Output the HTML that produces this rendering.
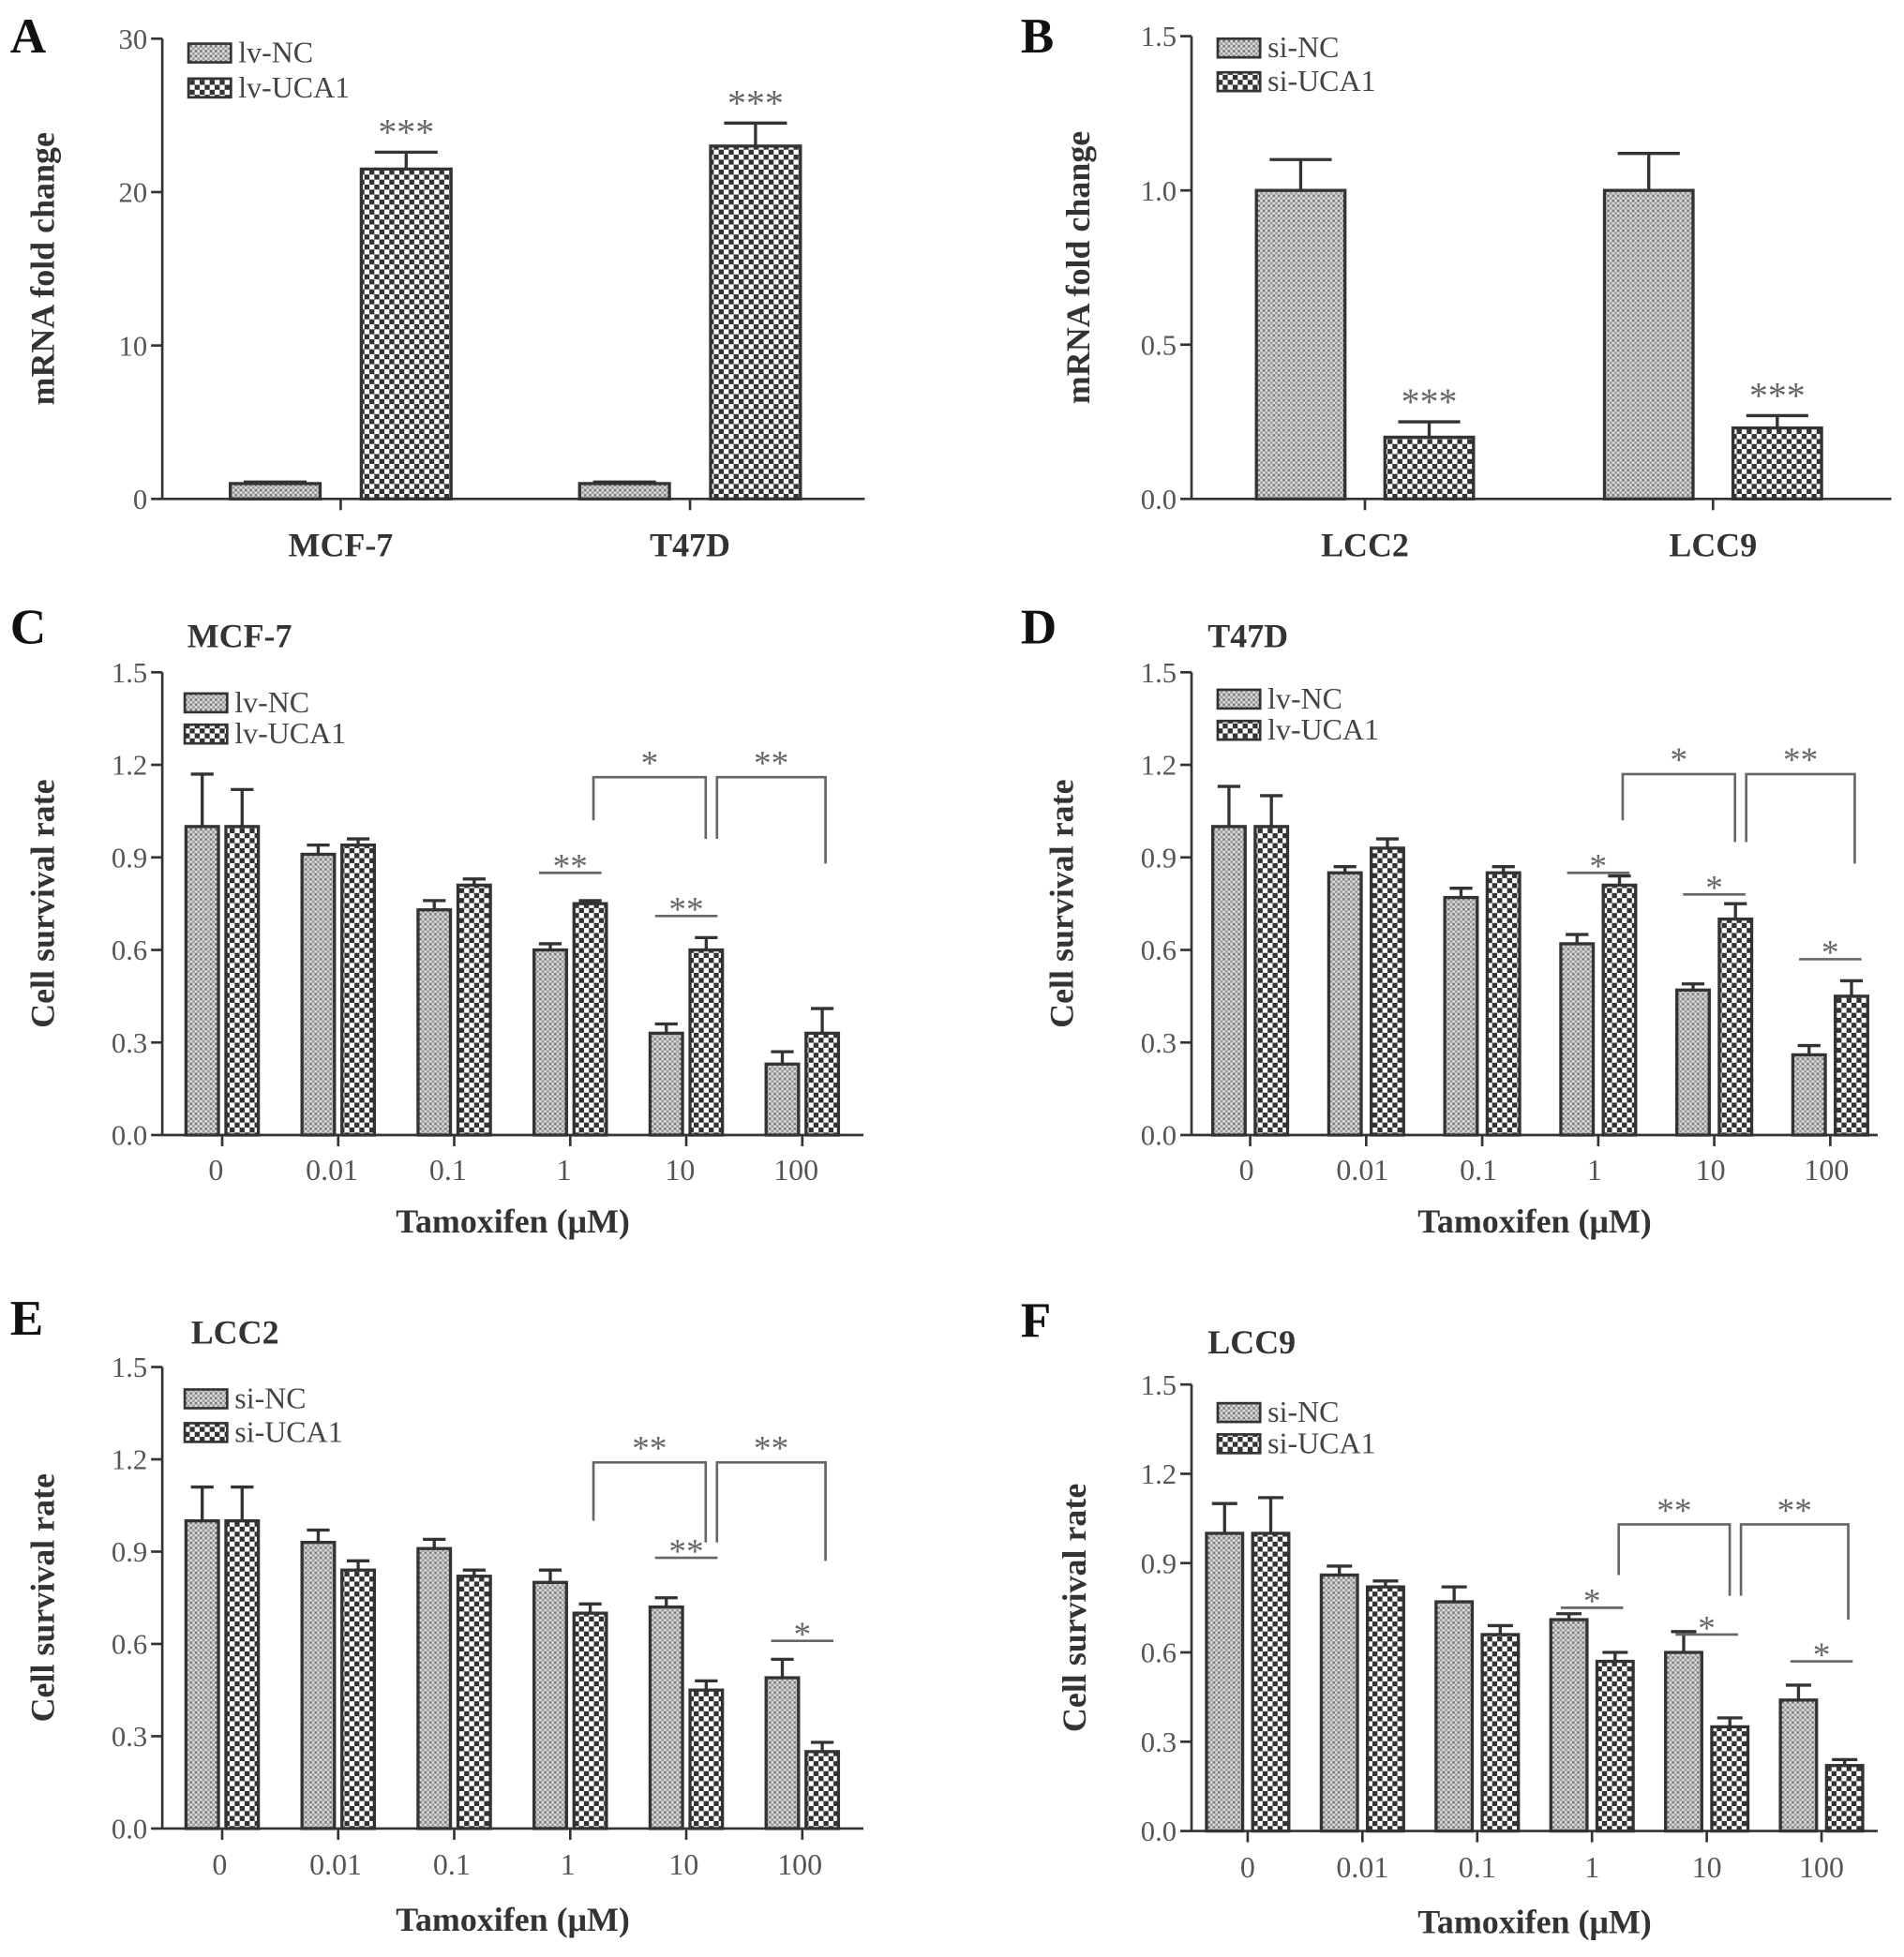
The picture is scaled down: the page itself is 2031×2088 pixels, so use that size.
<!DOCTYPE html>
<html><head><meta charset="utf-8">
<style>
html,body{margin:0;padding:0;background:#fff;}
svg{display:block;font-family:"Liberation Serif",serif;}
</style></head>
<body>
<svg id="fig" width="2031" height="2088" viewBox="0 0 1526 1569" xmlns="http://www.w3.org/2000/svg">
<defs>
<pattern id="pNC" patternUnits="userSpaceOnUse" width="4" height="4">
<rect width="4" height="4" fill="#dcdcdc"/>
<rect width="2" height="2" fill="#7a7a7a"/>
<rect x="2" y="2" width="2" height="2" fill="#9a9a9a"/>
</pattern>
<pattern id="pUC" patternUnits="userSpaceOnUse" width="8" height="8">
<rect width="8" height="8" fill="#fff"/>
<rect width="4" height="4" fill="#333"/>
<rect x="4" y="4" width="4" height="4" fill="#333"/>
</pattern>
</defs>
</svg>
<script>
// ---------- Data ----------
const catsA = ["MCF-7","T47D"];
const ncA = [1.0, 1.0];
const ncErrA = [0.1, 0.1];
const ucA = [21.5, 23.0];
const ucErrA = [1.1, 1.5];
const ticksA = ["0","10","20","30"];

const catsB = ["LCC2","LCC9"];
const ncB = [1.0, 1.0];
const ncErrB = [0.1, 0.12];
const ucB = [0.2, 0.23];
const ucErrB = [0.05, 0.04];
const ticksB = ["0.0","0.5","1.0","1.5"];

const doseCats = ["0","0.01","0.1","1","10","100"];
const survTicks = ["0.0","0.3","0.6","0.9","1.2","1.5"];

const ncC = [1.0,0.91,0.73,0.60,0.33,0.23];
const ncErrC = [0.17,0.03,0.03,0.02,0.03,0.04];
const ucC = [1.0,0.94,0.81,0.75,0.60,0.33];
const ucErrC = [0.12,0.02,0.02,0.01,0.04,0.08];

const ncD = [1.0,0.85,0.77,0.62,0.47,0.26];
const ncErrD = [0.13,0.02,0.03,0.03,0.02,0.03];
const ucD = [1.0,0.93,0.85,0.81,0.70,0.45];
const ucErrD = [0.10,0.03,0.02,0.03,0.05,0.05];

const ncE = [1.0,0.93,0.91,0.80,0.72,0.49];
const ncErrE = [0.11,0.04,0.03,0.04,0.03,0.06];
const ucE = [1.0,0.84,0.82,0.70,0.45,0.25];
const ucErrE = [0.11,0.03,0.02,0.03,0.03,0.03];

const ncF = [1.0,0.86,0.77,0.71,0.60,0.44];
const ncErrF = [0.10,0.03,0.05,0.02,0.07,0.05];
const ucF = [1.0,0.82,0.66,0.57,0.35,0.22];
const ucErrF = [0.12,0.02,0.03,0.03,0.03,0.02];

// pair annotations: [categoryIndex, yValue, label]
const pairsC = [[3,0.85,"**"],[4,0.71,"**"]];
const pairsD = [[3,0.85,"*"],[4,0.78,"*"],[5,0.57,"*"]];
const pairsE = [[4,0.88,"**"],[5,0.61,"*"]];
const pairsF = [[3,0.75,"*"],[4,0.66,"*"],[5,0.57,"*"]];
// brackets: [fromCat, toCat, topValue, leftEndValue, rightEndValue, label]
const bracketsC = [[3,4,1.16,1.02,0.96,"*"],[4,5,1.16,0.96,0.88,"**"]];
const bracketsD = [[3,4,1.17,1.02,0.95,"*"],[4,5,1.17,0.95,0.88,"**"]];
const bracketsE = [[3,4,1.19,1.0,0.93,"**"],[4,5,1.19,0.93,0.87,"**"]];
const bracketsF = [[3,4,1.03,0.86,0.79,"**"],[4,5,1.03,0.79,0.71,"**"]];

const SVGNS = "http://www.w3.org/2000/svg";
const svg = document.getElementById("fig");
function mk(tag, attrs, parent, txt){
  const e = document.createElementNS(SVGNS, tag);
  for (const k in attrs) e.setAttribute(k, attrs[k]);
  if (txt !== undefined) e.textContent = txt;
  (parent||svg).appendChild(e);
  return e;
}

function chart(c){
  const g = mk("g", {});
  
  
  const ys = v => c.yBot - (v / c.vmax) * (c.yBot - c.yTop);
  const cx = i => c.c0 + i * c.step;
  const ncX = i => cx(i) - c.gap/2 - c.w;
  const ucX = i => cx(i) + c.gap/2;
  const stroke = "#333";
  const L = mk("text", {x:c.lx, y:c.ly, "font-size":40, "font-weight":"bold", fill:"#111"}, g, c.letter);
  
  
  if (c.title){
    const t = mk("text", {x:c.tx, y:c.ty, "font-size":27, "font-weight":"bold", fill:"#333"}, g, c.title);
    
    
  }
  const ya = mk("line", {x1:c.x0, y1:c.yTop, x2:c.x0, y2:c.yBot, stroke:stroke, "stroke-width":2}, g);
  
  
  const xa = mk("line", {x1:c.x0, y1:c.yBot, x2:c.x1, y2:c.yBot, stroke:stroke, "stroke-width":2}, g);
  
  
  c.ticks.forEach((t,i)=>{
    const v = parseFloat(t);
    const y = ys(v);
    mk("line", {x1:c.x0-9, y1:y, x2:c.x0, y2:y, stroke:stroke, "stroke-width":2}, g);
    const tl = mk("text", {x:c.x0-12, y:y+8, "font-size":23, "text-anchor":"end", fill:"#555"}, g, t);
    
    
  });
  const yl = mk("text", {x:0, y:0, "font-size":27, "font-weight":"bold", fill:"#333", "text-anchor":"middle",
    transform:`translate(${c.ylx},${(c.yTop+c.yBot)/2}) rotate(-90)`}, g, c.ytitle);
  
  
  if (c.xtitle){
    const xl = mk("text", {x:(c.x0+c.x1)/2, y:c.xty, "font-size":27, "font-weight":"bold", fill:"#333", "text-anchor":"middle"}, g, c.xtitle);
    
    
  }
  c.cats.forEach((cat,i)=>{
    mk("line", {x1:cx(i), y1:c.yBot, x2:cx(i), y2:c.yBot+9, stroke:stroke, "stroke-width":2}, g);
    const cl = mk("text", {x:cx(i)+(c.labOff||0), y:c.cly, "font-size":c.clfs, "font-weight":c.clw, fill:c.clw==="bold"?"#333":"#555", "text-anchor":"middle"}, g, cat);
    
    
    [[ncX(i), c.nc[i], c.ncErr[i], "url(#pNC)", "bar-control"],[ucX(i), c.uc[i], c.ucErr[i], "url(#pUC)", "bar-uca1"]].forEach(b=>{
      const top = ys(b[1]);
      const et = ys(b[1]+b[2]);
      const mid = b[0]+c.w/2;
      const el = mk("line", {x1:mid, y1:top, x2:mid, y2:et, stroke:stroke, "stroke-width":2.5}, g);
      
      
      mk("line", {x1:mid-c.w*0.35, y1:et, x2:mid+c.w*0.35, y2:et, stroke:stroke, "stroke-width":2.5}, g);
      const r = mk("rect", {x:b[0], y:top, width:c.w, height:c.yBot-top, fill:b[3], stroke:stroke, "stroke-width":2.5}, g);
      
      
    });
  });
  if (c.topStars){
    c.uc.forEach((v,i)=>{
      const s = mk("text", {x:ucX(i)+c.w/2, y:ys(v+c.ucErr[i])-6, "font-size":30, fill:"#666", "text-anchor":"middle"}, g, c.topStars);
      
      
    });
  }
  (c.pairs||[]).forEach(p=>{
    const y = ys(p[1]);
    mk("line", {x1:cx(p[0])-25, y1:y, x2:cx(p[0])+25, y2:y, stroke:"#666", "stroke-width":2}, g);
    const s = mk("text", {x:cx(p[0]), y:y+4, "font-size":28, fill:"#666", "text-anchor":"middle"}, g, p[2]);
    
    
  });
  (c.brackets||[]).forEach((b,k)=>{
    const xa = ucX(b[0]) + c.w*0.6 + (k? 6:0);
    const xb = ucX(b[1]) + c.w*0.6 - (k? 0:3);
    const yt = ys(b[2]);
    mk("polyline", {points:`${xa},${ys(b[3])} ${xa},${yt} ${xb},${yt} ${xb},${ys(b[4])}`, fill:"none", stroke:"#666", "stroke-width":2}, g);
    const s = mk("text", {x:(xa+xb)/2, y:yt-2, "font-size":28, fill:"#666", "text-anchor":"middle"}, g, b[5]);
    
    
  });
  [[c.leg[0],"url(#pNC)"],[c.leg[1],"url(#pUC)"]].forEach((l,i)=>{
    const y = c.legY + i*c.legDy;
    const lg = mk("g", {}, g);
    
    
    mk("rect", {x:c.legX, y:y, width:34, height:15, fill:l[1], stroke:stroke, "stroke-width":2}, lg);
    mk("text", {x:c.legX+40, y:y+15, "font-size":24, fill:"#444"}, lg, l[0]);
  });
}

chart({name:"panel-a", letter:"A", lx:8, ly:42, x0:130, x1:693, yTop:31, yBot:400, vmax:30, ticks:ticksA,
  cats:catsA, c0:273, step:280, w:72, gap:33, nc:ncA, ncErr:ncErrA, uc:ucA, ucErr:ucErrA,
  ylx:43, ytitle:"mRNA fold change", cly:446, clfs:27, clw:"bold", topStars:"***",
  leg:["lv-NC","lv-UCA1"], legX:151, legY:35, legDy:28});
chart({name:"panel-b", letter:"B", lx:818, ly:42, x0:955, x1:1516, yTop:29, yBot:400, vmax:1.5, ticks:ticksB,
  cats:catsB, c0:1094, step:279, w:71, gap:32, nc:ncB, ncErr:ncErrB, uc:ucB, ucErr:ucErrB,
  ylx:873, ytitle:"mRNA fold change", cly:446, clfs:27, clw:"bold", topStars:"***",
  leg:["si-NC","si-UCA1"], legX:976, legY:31, legDy:27});
chart({name:"panel-c", letter:"C", lx:8, ly:516, title:"MCF-7", tx:150, ty:519, x0:130, x1:692, yTop:539, yBot:910, vmax:1.5, ticks:survTicks,
  cats:doseCats, c0:178, step:93, w:26, gap:6, nc:ncC, ncErr:ncErrC, uc:ucC, ucErr:ucErrC, labOff:-5,
  ylx:43, ytitle:"Cell survival rate", xtitle:"Tamoxifen (μM)", xty:988, cly:946, clfs:24, clw:"normal",
  pairs:pairsC, brackets:bracketsC, leg:["lv-NC","lv-UCA1"], legX:148, legY:556, legDy:25});
chart({name:"panel-d", letter:"D", lx:818, ly:516, title:"T47D", tx:968, ty:519, x0:955, x1:1505, yTop:539, yBot:910, vmax:1.5, ticks:survTicks,
  cats:doseCats, c0:1002, step:93, w:26, gap:8, nc:ncD, ncErr:ncErrD, uc:ucD, ucErr:ucErrD, labOff:-3,
  ylx:860, ytitle:"Cell survival rate", xtitle:"Tamoxifen (μM)", xty:988, cly:946, clfs:24, clw:"normal",
  pairs:pairsD, brackets:bracketsD, leg:["lv-NC","lv-UCA1"], legX:976, legY:553, legDy:25});
chart({name:"panel-e", letter:"E", lx:8, ly:1070, title:"LCC2", tx:153, ty:1077, x0:130, x1:692, yTop:1096, yBot:1466, vmax:1.5, ticks:survTicks,
  cats:doseCats, c0:178, step:93, w:26, gap:6, nc:ncE, ncErr:ncErrE, uc:ucE, ucErr:ucErrE, labOff:-2,
  ylx:43, ytitle:"Cell survival rate", xtitle:"Tamoxifen (μM)", xty:1548, cly:1503, clfs:24, clw:"normal",
  pairs:pairsE, brackets:bracketsE, leg:["si-NC","si-UCA1"], legX:148, legY:1114, legDy:27});
chart({name:"panel-f", letter:"F", lx:818, ly:1072, title:"LCC9", tx:968, ty:1085, x0:955, x1:1505, yTop:1110, yBot:1468, vmax:1.5, ticks:survTicks,
  cats:doseCats, c0:1000, step:92, w:29, gap:8, nc:ncF, ncErr:ncErrF, uc:ucF, ucErr:ucErrF, labOff:0,
  ylx:870, ytitle:"Cell survival rate", xtitle:"Tamoxifen (μM)", xty:1550, cly:1505, clfs:24, clw:"normal",
  pairs:pairsF, brackets:bracketsF, leg:["si-NC","si-UCA1"], legX:976, legY:1125, legDy:25});
</script>
</body></html>
